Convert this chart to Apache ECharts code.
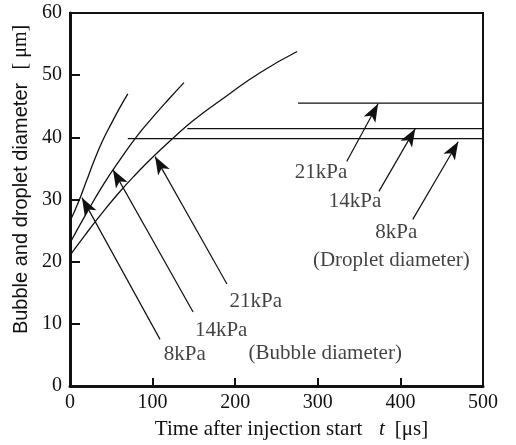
<!DOCTYPE html>
<html>
<head>
<meta charset="utf-8">
<script src="https://cdn.jsdelivr.net/npm/echarts@6/dist/echarts.min.js"></script>
<style>
  html, body { margin: 0; padding: 0; background: #fff; }
  #chart { width: 516px; height: 445px; }
</style>
</head>
<body>
<div id="chart"></div>
<script>
  // bubble diameter curves [t, d]
  var bubble8 = [[0, 26.5], [10, 29.5], [20, 33], [30, 36.5], [40, 39.6], [50, 42.2], [60, 44.7], [70, 47]];
  var bubble14 = [[0, 23], [20, 27.8], [40, 32.3], [60, 36.3], [80, 40], [100, 43.2], [120, 46.2], [138, 48.8]];
  var bubble21 = [[0, 21], [20, 24.6], [40, 28], [60, 31.2], [80, 34.1], [100, 36.8], [125, 39.9], [150, 42.8], [190, 46.7], [230, 50.4], [275, 53.8]];

  // droplet diameter (flat lines)
  var droplet8 = [[70, 39.8], [500, 39.8]];
  var droplet14 = [[142, 41.4], [500, 41.4]];
  var droplet21 = [[276, 45.5], [500, 45.5]];

  // annotation arrows: tail -> tip
  var arrowTail = [[109, 7.5], [149, 11.9], [190, 16.4], [335, 36.1], [374, 31.3], [415, 26.8]];
  var arrowTip = [[14.5, 30.3], [52, 34.8], [103, 36.9], [373, 45.4], [418, 41.4], [470, 39.3]];

  // annotation texts
  var noteText = ['8kPa', '14kPa', '21kPa', '(Bubble diameter)', '21kPa', '14kPa', '8kPa', '(Droplet diameter)'];
  var notePos = [[139, 5.1], [183, 9.0], [225, 13.6], [309, 5.3], [304, 34.3], [345, 29.7], [395, 24.7], [389, 20.2]];

  var xTicks = [0, 100, 200, 300, 400, 500];
  var yTicks = [0, 10, 20, 30, 40, 50, 60];

  var serif = '"Liberation Serif", "Times New Roman", serif';
  var sans = '"Liberation Sans", Arial, sans-serif';

  function curve(data) {
    return {
      type: 'line',
      data: data,
      smooth: true,
      showSymbol: false,
      symbol: 'none',
      silent: true,
      lineStyle: {color: '#111', width: 1.3}
    };
  }

  var arrowLines = arrowTail.map(function (p, i) {
    return [{coord: p}, {coord: arrowTip[i]}];
  });

  var myChart = echarts.init(document.getElementById('chart'));
  var option = {
    animation: false,
    backgroundColor: '#fff',
    grid: {
      left: 70,
      right: 33,
      top: 13,
      bottom: 58,
      show: true,
      borderColor: '#111',
      borderWidth: 2
    },
    xAxis: {
      type: 'value',
      min: xTicks[0],
      max: xTicks[xTicks.length - 1],
      interval: 100,
      name: '{a|Time after injection start}     {i|t}   {a|[μs]}',
      nameLocation: 'middle',
      nameGap: 33,
      nameTextStyle: {
        padding: [0, 0, 0, 30],
        rich: {
          a: {fontFamily: serif, fontSize: 21, color: '#111'},
          i: {fontFamily: serif, fontSize: 21, fontStyle: 'italic', color: '#111'}
        }
      },
      axisLine: {show: true, lineStyle: {color: '#111', width: 3}},
      axisTick: {show: true, inside: true, length: 8, lineStyle: {color: '#111', width: 2}},
      axisLabel: {color: '#111', fontFamily: serif, fontSize: 20, margin: 7},
      splitLine: {show: false}
    },
    yAxis: {
      type: 'value',
      min: yTicks[0],
      max: yTicks[yTicks.length - 1],
      interval: 10,
      name: '{a|Bubble and droplet diameter}    {b|[ μm]}',
      nameLocation: 'middle',
      nameGap: 35,
      nameTextStyle: {
        padding: [0, 0, 0, 40],
        rich: {
          a: {fontFamily: sans, fontSize: 20, color: '#111'},
          b: {fontFamily: serif, fontSize: 20, color: '#111'}
        }
      },
      axisLine: {show: true, lineStyle: {color: '#111', width: 3}},
      axisTick: {show: true, inside: true, length: 10, lineStyle: {color: '#111', width: 2}},
      axisLabel: {color: '#111', fontFamily: serif, fontSize: 20, margin: 8},
      splitLine: {show: false}
    },
    series: [
      curve(bubble8),
      curve(bubble14),
      curve(bubble21),
      curve(droplet8),
      curve(droplet14),
      curve(droplet21),
      {
        type: 'line',
        data: [],
        silent: true,
        markLine: {
          silent: true,
          symbol: ['none', 'arrow'],
          symbolSize: [10, 18],
          label: {show: false},
          lineStyle: {color: '#111', width: 1.2, type: 'solid'},
          emphasis: {disabled: true},
          data: arrowLines
        }
      },
      {
        type: 'scatter',
        silent: true,
        symbolSize: 0,
        data: notePos.map(function (p, i) {
          return {value: p, name: noteText[i]};
        }),
        label: {
          show: true,
          position: 'inside',
          formatter: '{b}',
          color: '#111',
          fontFamily: serif,
          fontSize: 21
        }
      }
    ]
  };
  myChart.setOption(option);
</script>
</body>
</html>
